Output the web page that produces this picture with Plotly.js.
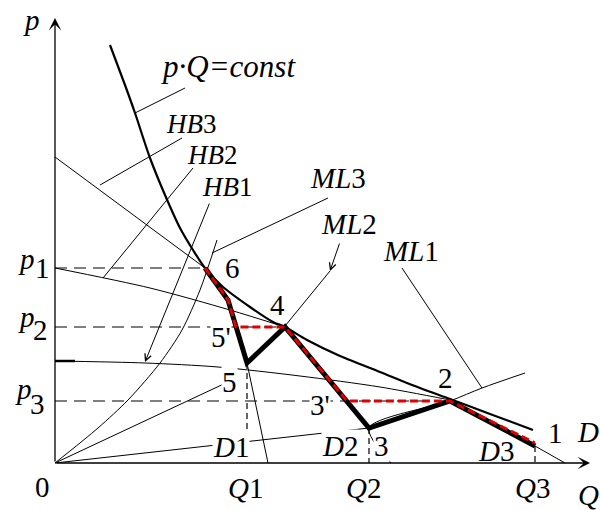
<!DOCTYPE html>
<html><head><meta charset="utf-8">
<script src="https://cdn.plot.ly/plotly-3.0.1.min.js"></script>
<style>html,body{margin:0;padding:0;background:#fff}#chart{width:600px;height:510px}</style>
</head><body><div id="chart"></div>
<script>
// Coordinates: Q (quantity) to the right, p (price) upward, origin at the axes' corner.
// Curve p·Q = const continuing into the demand curve D (label "1")
const curveQ = [55,70,80,95,110,125,138,150,168,195,218,230,252,285,325,365,395,435,478];
const curveP = [418,378,350,305,268,235,213,195,176,156,141,136,123,107,91,75,64,49,33];
// Key points
const pLevels = [195,136,62];          // p1, p2, p3
const qLevels = [192,314,480];         // Q1, Q2, Q3
// Thick black adjustment path 6 -> 5 -> 4 -> 3 -> 2 -> end of D3
const pathQ = [150,173,192,230,314,395,480];
const pathP = [195,163,100,136,35,62,17];
// Red dashed path 6 -> 5' -> 4 -> 3' -> 2 -> end
const redQ = [150,173,181,230,292,395,480];
const redP = [195,163,136,136,62,62,20];
// HB budget lines
const hb3Q = [0,150], hb3P = [306,195];
const hb2Q = [0,95,175,230], hb2P = [195,175,153,136];
const hb1Q = [0,90,163,245,325,395], hb1P = [102,100,96,87,76,63];
const hb1StubQ = [0,20], hb1StubP = [102,102];
// ML curves
const ml3Q = [0,43,73,105,127,145,162], ml3P = [0,35,63,100,133,173,223];
const ml2Q = [213,192,230,275], ml2P = [0,100,137,192];
const ml1Q = [336,314,395,427,470], ml1P = [0,35,62,75,90];
// Rays from the origin and D3 tail
const ray5Q = [0,175], ray5P = [0,82];
const rayD1Q = [0,314], rayD1P = [0,35];
const d3TailQ = [480,510], d3TailP = [17,0];
// Leader lines [Q0,P0,Q1,P1]
const leaders = [[130,375,80,350],[127,325,45,278],[138,295,48,185],[273,265,157,210],[347,195,427,75]];
const arrowLeaders = [[155,261,90,101],[285,221,275,192]];

const traces = [];
function line(x,y,w,color,dash,shape){
  traces.push({type:'scatter',mode:'lines',x:x,y:y,hoverinfo:'skip',showlegend:false,
    line:{width:w,color:color,dash:dash||'solid',shape:shape||'linear',smoothing:0.8}});
}
// thin lines
line(hb3Q,hb3P,1,'#000');
line(hb2Q,hb2P,1,'#000','solid','spline');
line(hb1Q,hb1P,1,'#000','solid','spline');
line(hb1StubQ,hb1StubP,2.5,'#000');
line(ml3Q,ml3P,1,'#000','solid','spline');
line(ml2Q,ml2P,1,'#000');
line(ml1Q,ml1P,1,'#000','solid','spline');
line(ray5Q,ray5P,1,'#000');
line(rayD1Q,rayD1P,1,'#000');
line(d3TailQ,d3TailP,1,'#000');
leaders.forEach(l=>line([l[0],l[2]],[l[1],l[3]],1,'#000'));
// dashed guides
pLevels.forEach((p,i)=>line([0,[150,230,395][i]],[p,p],1.2,'#000','12px,7px'));
qLevels.forEach((q,i)=>line([q,q],[[100,35,17][i],0],1.2,'#000','6px,4px'));
// curve
line(curveQ,curveP,2.2,'#000','solid','spline');
// thick path
line(pathQ,pathP,5,'#000');
// red dashed
line(redQ,redP,3,'#e00000','8px,4px');

const F = '"Liberation Serif", "Times New Roman", Times, serif';
const ann = [];
function lab(t,x,y,size,bg){
  ann.push({x:x,y:y,xref:'x',yref:'y',text:t,showarrow:false,font:{family:F,size:size||29,color:'#000'},
    bgcolor:bg?'#fff':'rgba(0,0,0,0)',borderpad:0,xanchor:'center',yanchor:'middle'});
}
lab('<i>p·Q=const</i>',173,397,31);
lab('<i>HB</i>3',136,339,27);
lab('<i>HB</i>2',157,308,27);
lab('<i>HB</i>1',172,276,27);
lab('<i>ML</i>3',283,285);
lab('<i>ML</i>2',294,239);
lab('<i>ML</i>1',356,212);
lab('6',177,195);
lab('4',222,158);
lab("5'",166,126,29,true);
lab('5',174,81,29,true);
lab("3'",265,58,29,true);
lab('2',390,85);
lab('1',500,30);
lab('<i>D</i>',533,31);
lab('<i>D</i>1',176,16,29,true);
lab('<i>D</i>2',285,17,29,true);
lab('3',326,17,29,true);
lab('<i>D</i>3',441,12);
lab('<i>Q</i>1',190,-25);
lab('<i>Q</i>2',308,-25);
lab('<i>Q</i>3',477,-25);
lab('<i>Q</i>',533,-32);
lab('0',-13,-24);
lab('<i>p</i>',-24,443);
lab('<i>p</i>',-29,204); lab('1',-13,195);
lab('<i>p</i>',-29,146); lab('2',-15,133);
lab('<i>p</i>',-32,74); lab('3',-18,59);
// axes with arrowheads
ann.push({x:0,y:445,ax:0,ay:0,xref:'x',yref:'y',axref:'x',ayref:'y',text:'',showarrow:true,arrowhead:3,arrowsize:1.6,arrowwidth:1.3,arrowcolor:'#000'});
ann.push({x:535,y:0,ax:0,ay:0,xref:'x',yref:'y',axref:'x',ayref:'y',text:'',showarrow:true,arrowhead:3,arrowsize:1.6,arrowwidth:1.3,arrowcolor:'#000'});
arrowLeaders.forEach(l=>ann.push({x:l[2],y:l[3],ax:l[0],ay:l[1],xref:'x',yref:'y',axref:'x',ayref:'y',text:'',showarrow:true,arrowhead:5,arrowsize:1.3,arrowwidth:1,arrowcolor:'#000'}));

Plotly.newPlot('chart',traces,{
  width:600,height:510,margin:{l:0,r:0,t:0,b:0},
  paper_bgcolor:'#fff',plot_bgcolor:'#fff',showlegend:false,
  xaxis:{range:[-55,545],visible:false,fixedrange:true},
  yaxis:{range:[-47,463],visible:false,fixedrange:true},
  annotations:ann
},{staticPlot:true,displayModeBar:false});
</script></body></html>
